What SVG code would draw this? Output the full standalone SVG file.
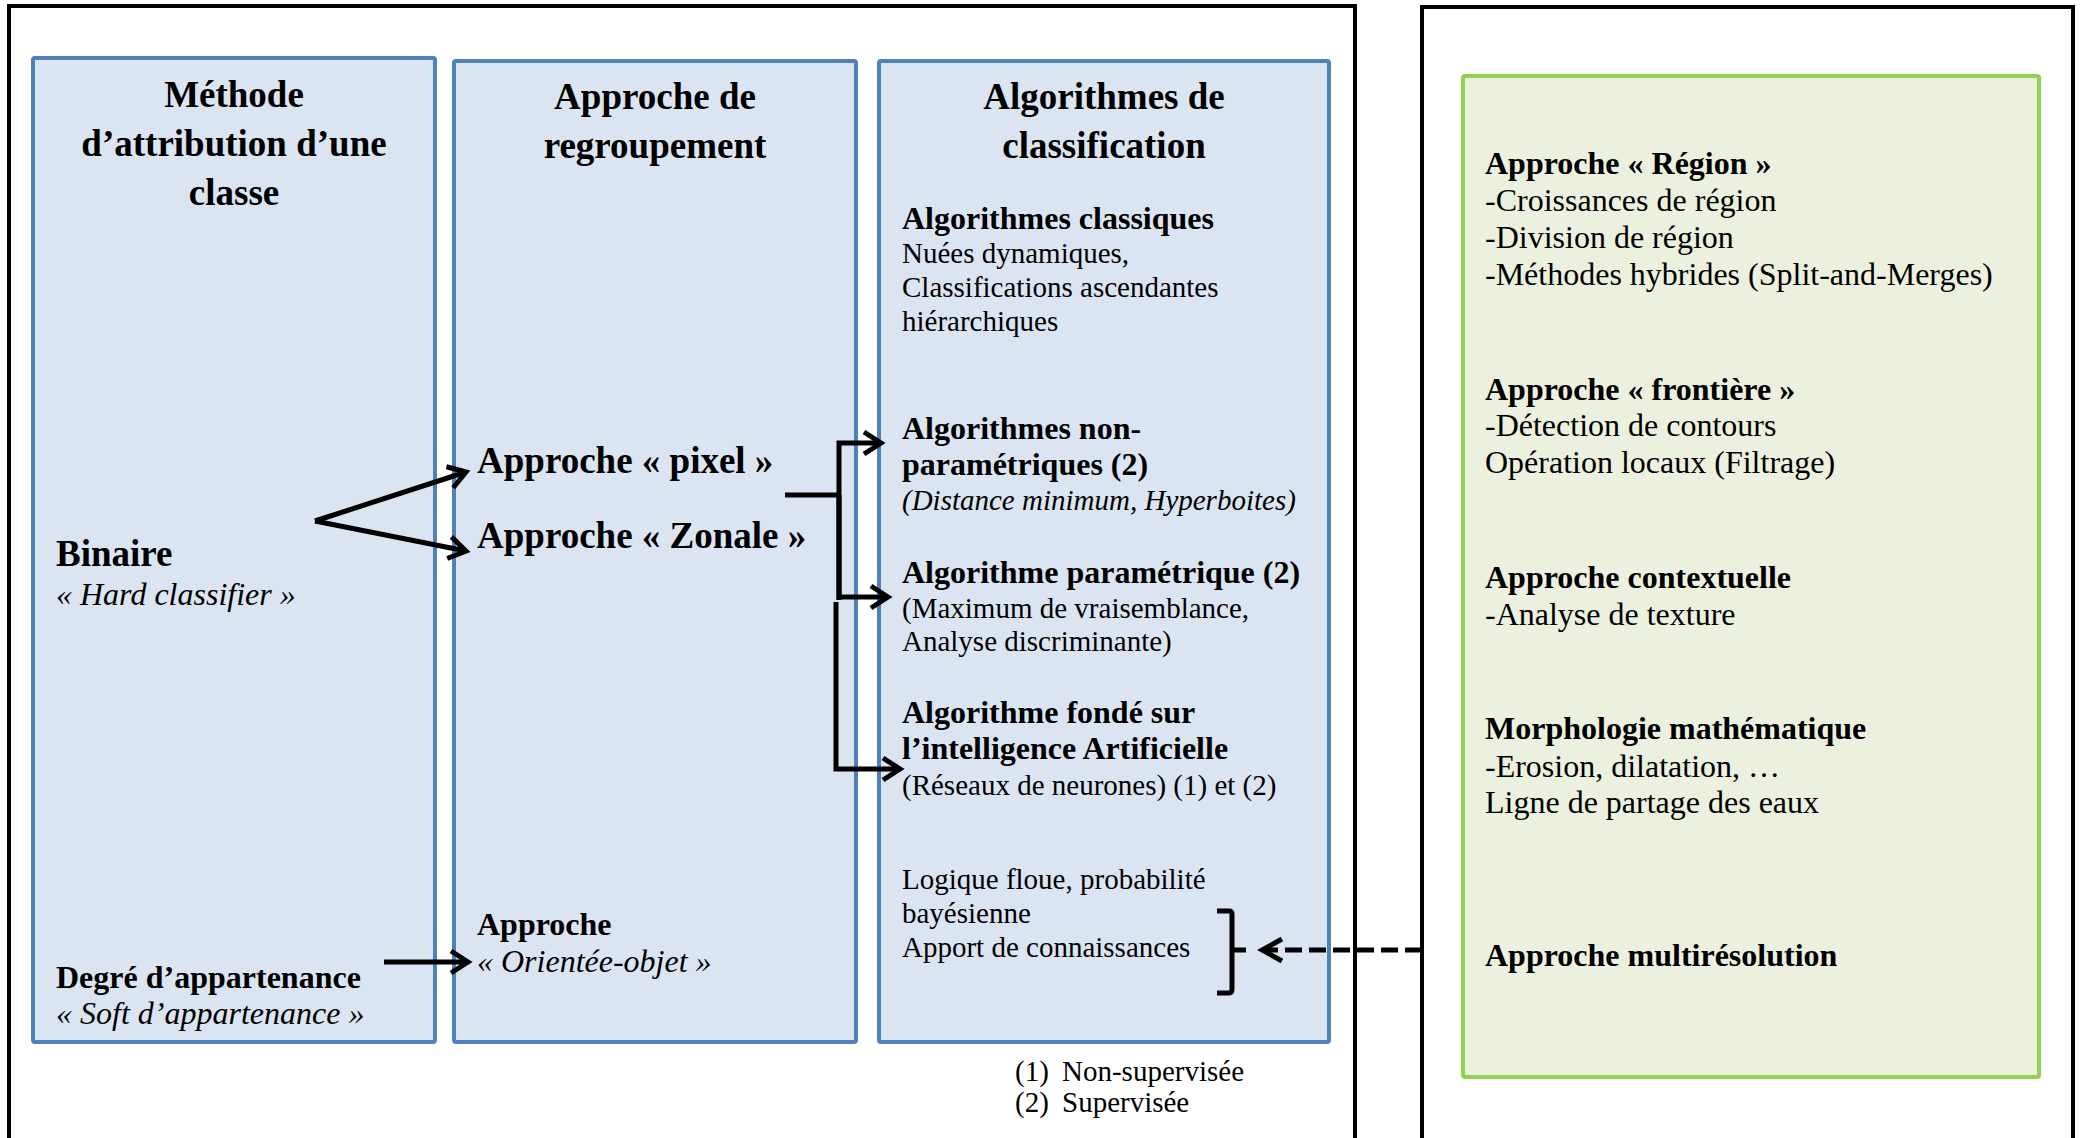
<svg xmlns="http://www.w3.org/2000/svg" width="2083" height="1138" viewBox="0 0 2083 1138">
<defs>
<style>
text{font-family:"Liberation Serif","Times New Roman",serif;fill:#000}
.title{font-size:37px;font-weight:bold;text-anchor:middle}
.b37{font-size:37px;font-weight:bold}
.b32{font-size:32px;font-weight:bold}
.r32{font-size:32px}
.i32{font-size:32px;font-style:italic}
.r29{font-size:29px}
.i29{font-size:29px;font-style:italic}
.frame{fill:none;stroke:#000;stroke-width:4}
.blue{fill:#DBE5F1;stroke:#4F81BD;stroke-width:4}
.green{fill:#EBF1DE;stroke:#92D050;stroke-width:4}
.conn{fill:none;stroke:#000;stroke-width:5}
</style>
<marker id="arr" markerUnits="userSpaceOnUse" markerWidth="30" markerHeight="30" viewBox="-22 -15 27 30" refX="0" refY="0" orient="auto">
<path d="M-17,-11 L0,0 L-17,11" fill="none" stroke="#000" stroke-width="5" stroke-linejoin="miter"/>
</marker>
<marker id="arrd" markerUnits="userSpaceOnUse" markerWidth="30" markerHeight="30" viewBox="-24 -15 29 30" refX="0" refY="0" orient="auto">
<path d="M-20,-11 L0,0 L-20,11" fill="none" stroke="#000" stroke-width="5" stroke-linejoin="miter"/>
</marker>
</defs>

<g id="frame-left"><rect class="frame" x="9" y="6" width="1346" height="1150"/></g>
<g id="frame-right"><rect class="frame" x="1422" y="7" width="651" height="1150"/></g>

<g id="box-methode">
<rect class="blue" x="33" y="58" width="402" height="984" rx="2"/>
<text class="title" x="234" y="107">Méthode</text>
<text class="title" x="234" y="156">d’attribution d’une</text>
<text class="title" x="234" y="205">classe</text>
<text class="b37" x="56" y="566">Binaire</text>
<text class="i32" x="56" y="605">« Hard classifier »</text>
<text class="b32" x="56" y="988">Degré d’appartenance</text>
<text class="i32" x="56" y="1024">« Soft d’appartenance »</text>
</g>

<g id="box-regroupement">
<rect class="blue" x="454" y="61" width="402" height="981" rx="2"/>
<text class="title" x="655" y="109">Approche de</text>
<text class="title" x="655" y="158">regroupement</text>
<text class="b37" x="477" y="473">Approche « pixel »</text>
<text class="b37" x="477" y="548">Approche « Zonale »</text>
<text class="b32" x="477" y="935">Approche</text>
<text class="i32" x="477" y="972">« Orientée-objet »</text>
</g>

<g id="box-algorithmes">
<rect class="blue" x="879" y="61" width="450" height="981" rx="2"/>
<text class="title" x="1104" y="109">Algorithmes de</text>
<text class="title" x="1104" y="158">classification</text>
<text class="b32" x="902" y="229">Algorithmes classiques</text>
<text class="r29" x="902" y="263">Nuées dynamiques,</text>
<text class="r29" x="902" y="297">Classifications ascendantes</text>
<text class="r29" x="902" y="331">hiérarchiques</text>
<text class="b32" x="902" y="439">Algorithmes non-</text>
<text class="b32" x="902" y="475">paramétriques (2)</text>
<text class="i29" x="902" y="510">(Distance minimum, Hyperboites)</text>
<text class="b32" x="902" y="583">Algorithme paramétrique (2)</text>
<text class="r29" x="902" y="618">(Maximum de vraisemblance,</text>
<text class="r29" x="902" y="651">Analyse discriminante)</text>
<text class="b32" x="902" y="723">Algorithme fondé sur</text>
<text class="b32" x="902" y="759">l’intelligence Artificielle</text>
<text class="r29" x="902" y="795">(Réseaux de neurones) (1) et (2)</text>
<text class="r29" x="902" y="889">Logique floue, probabilité</text>
<text class="r29" x="902" y="923">bayésienne</text>
<text class="r29" x="902" y="957">Apport de connaissances</text>
<path d="M1217,911 H1229 Q1232,911 1232,914 V950 H1246 M1232,950 V989 Q1232,993 1229,993 H1217" fill="none" stroke="#000" stroke-width="5"/>
</g>

<g id="legend">
<text class="r29" x="1015" y="1081">(1)</text>
<text class="r29" x="1062" y="1081">Non-supervisée</text>
<text class="r29" x="1015" y="1112">(2)</text>
<text class="r29" x="1062" y="1112">Supervisée</text>
</g>

<g id="box-segmentation">
<rect class="green" x="1463" y="76" width="576" height="1001" rx="2"/>
<text class="b32" x="1485" y="174">Approche « Région »</text>
<text class="r32" x="1485" y="211">-Croissances de région</text>
<text class="r32" x="1485" y="248">-Division de région</text>
<text class="r32" x="1485" y="285">-Méthodes hybrides (Split-and-Merges)</text>
<text class="b32" x="1485" y="400">Approche « frontière »</text>
<text class="r32" x="1485" y="436">-Détection de contours</text>
<text class="r32" x="1485" y="473">Opération locaux (Filtrage)</text>
<text class="b32" x="1485" y="588">Approche contextuelle</text>
<text class="r32" x="1485" y="625">-Analyse de texture</text>
<text class="b32" x="1485" y="739">Morphologie mathématique</text>
<text class="r32" x="1485" y="777">-Erosion, dilatation, …</text>
<text class="r32" x="1485" y="813">Ligne de partage des eaux</text>
<text class="b32" x="1485" y="966">Approche multirésolution</text>
</g>

<g id="connectors">
<path class="conn" d="M315,521 L466,472" marker-end="url(#arr)"/>
<path class="conn" d="M315,521 L466,551" marker-end="url(#arr)"/>
<path class="conn" d="M384,962 L468,962" marker-end="url(#arr)"/>
<path class="conn" d="M785,495 H839"/>
<path class="conn" d="M839,600 V443 H881" marker-end="url(#arr)"/>
<path class="conn" d="M839,495 V597 H888" marker-end="url(#arr)"/>
<path class="conn" d="M836,602 V769 H900" marker-end="url(#arr)"/>
<path class="conn" d="M1422,950 H1262" stroke-dasharray="17,7" marker-end="url(#arrd)"/>
</g>
</svg>
